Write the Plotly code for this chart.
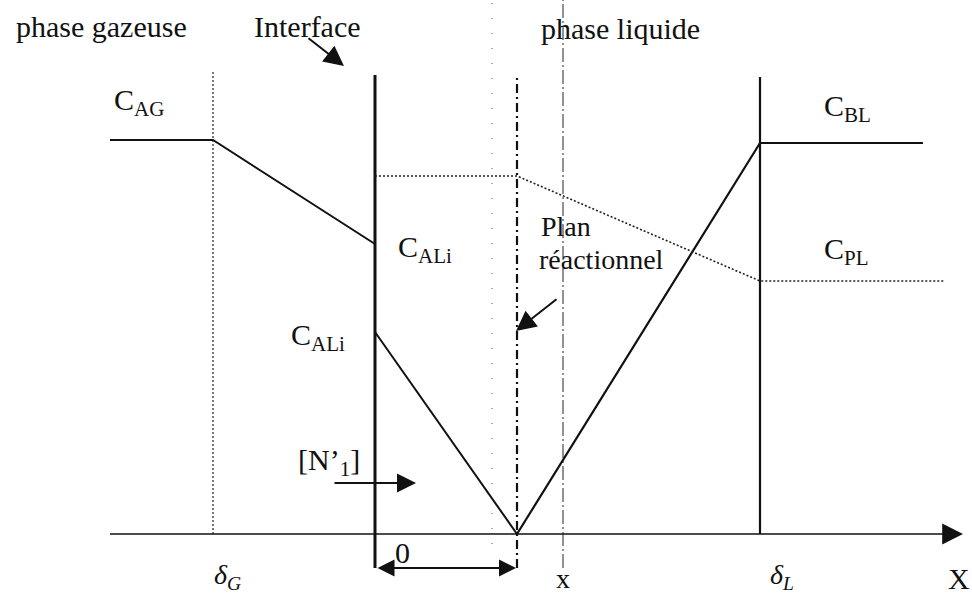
import plotly.graph_objects as go

# Positions along the X direction (diagram units)
x_start = 110          # left end of the gas-phase profile / axis origin
x_delta_G = 213        # gas film boundary
x_interface = 375      # gas-liquid interface
x_aux = 492            # auxiliary guide line
x_reaction = 517       # reaction plane
x_pos = 563            # running coordinate x
x_delta_L = 760        # liquid film boundary
x_end_solid = 923      # end of C_BL plateau
x_end_dotted = 945     # end of C_PL plateau
x_axis_end = 963       # tip of the X axis

# Concentration levels (height above the X axis)
C_AG = 394
C_ALi_gas = 290
C_ALi_liq = 202
C_BL = 391
C_PL_i = 358
C_PL = 253

# Vertical extents of the guide lines
top_film = 462
top_interface = 459
top_reaction = 459
top_guides = 534
below_axis = -34

# Profiles
gas_x = [x_start, x_delta_G, x_interface]
gas_y = [C_AG, C_AG, C_ALi_gas]
a_liq_x = [x_interface, x_reaction]
a_liq_y = [C_ALi_liq, 0]
b_liq_x = [x_reaction, x_delta_L, x_end_solid]
b_liq_y = [0, C_BL, C_BL]
p_liq_x = [x_interface, x_reaction, x_delta_L, x_end_dotted]
p_liq_y = [C_PL_i, C_PL_i, C_PL, C_PL]

FONT = "Liberation Serif"
INK = "#111111"

fig = go.Figure()


def line(xs, ys, width=2.0, dash="solid", color=INK):
    fig.add_trace(go.Scatter(x=xs, y=ys, mode="lines",
                             line=dict(color=color, width=width, dash=dash),
                             hoverinfo="skip", showlegend=False))


# Guide lines
line([x_delta_G, x_delta_G], [0, top_film + 2], width=1.2, dash="2px,2px", color="#222")
line([x_aux, x_aux], [0 - 10, top_guides], width=1.0, dash="1px,14px", color="#555")
line([x_pos, x_pos], [below_axis, top_guides], width=1.0, dash="14px,3px,2px,3px", color="#222")
line([x_interface, x_interface], [below_axis, top_interface], width=3.0)
line([x_reaction, x_reaction], [below_axis, top_reaction], width=2.2, dash="9px,4px,2px,4px")
line([x_delta_L, x_delta_L], [0, top_film - 5], width=2.2)

# X axis
line([x_start, x_axis_end - 12], [0, 0], width=1.6)

# Concentration profiles
line(gas_x, gas_y, width=2.0)
line(a_liq_x, a_liq_y, width=2.0)
line(b_liq_x, b_liq_y, width=2.2)
line(p_liq_x, p_liq_y, width=1.6, dash="2px,2px", color="#222")

annotations = []


def text(x, y, s, size=30, xanchor="center"):
    annotations.append(dict(x=x, y=y, text=s, showarrow=False, xref="x", yref="y",
                            xanchor=xanchor, yanchor="middle",
                            font=dict(family=FONT, size=size, color=INK)))


def arrow(x0, y0, x1, y1, width=2.0, size=1.4, both=False):
    annotations.append(dict(x=x1, y=y1, ax=x0, ay=y0, xref="x", yref="y",
                            axref="x", ayref="y", text="", showarrow=True,
                            arrowhead=2, arrowsize=size, arrowwidth=width,
                            arrowcolor=INK,
                            arrowside="end+start" if both else "end"))


text(101, 508, "phase gazeuse")
text(307, 508, "Interface")
text(620, 506, "phase liquide")
text(112, 432, "C<sub>AG</sub>", xanchor="left")
text(822, 426, "C<sub>BL</sub>", xanchor="left")
text(396, 285, "C<sub>ALi</sub>", xanchor="left")
text(289, 197, "C<sub>ALi</sub>", xanchor="left")
text(539, 308, "Plan", size=28, xanchor="left")
text(537, 275, "réactionnel", size=28, xanchor="left")
text(822, 283, "C<sub>PL</sub>", xanchor="left")
text(296, 72, "[N’<sub>1</sub>]", xanchor="left")
text(402, -18, "0")
text(227, -42, "<i>δ<sub>G</sub></i>", size=28)
text(563, -44, "x", size=28)
text(782, -42, "<i>δ<sub>L</sub></i>", size=28)
text(959, -44, "X")

# Arrows
arrow(307, 497, 344, 468, width=2.0, size=2.0)
arrow(558, 236, 516, 203, width=2.0, size=2.0)
arrow(333, 51, 416, 51, width=2.0, size=1.9)
arrow(x_interface + 1, below_axis, x_reaction - 1, below_axis, width=2.0, size=1.7, both=True)
arrow(x_axis_end - 14, 0, x_axis_end, 0, width=1.6, size=2.6)

fig.update_layout(
    width=972, height=596,
    margin=dict(l=0, r=0, t=0, b=0),
    paper_bgcolor="white", plot_bgcolor="white",
    xaxis=dict(range=[0, 972], visible=False, fixedrange=True),
    yaxis=dict(range=[-62, 534], visible=False, fixedrange=True),
    annotations=annotations,
    showlegend=False,
)

fig.write_html("out.html")
